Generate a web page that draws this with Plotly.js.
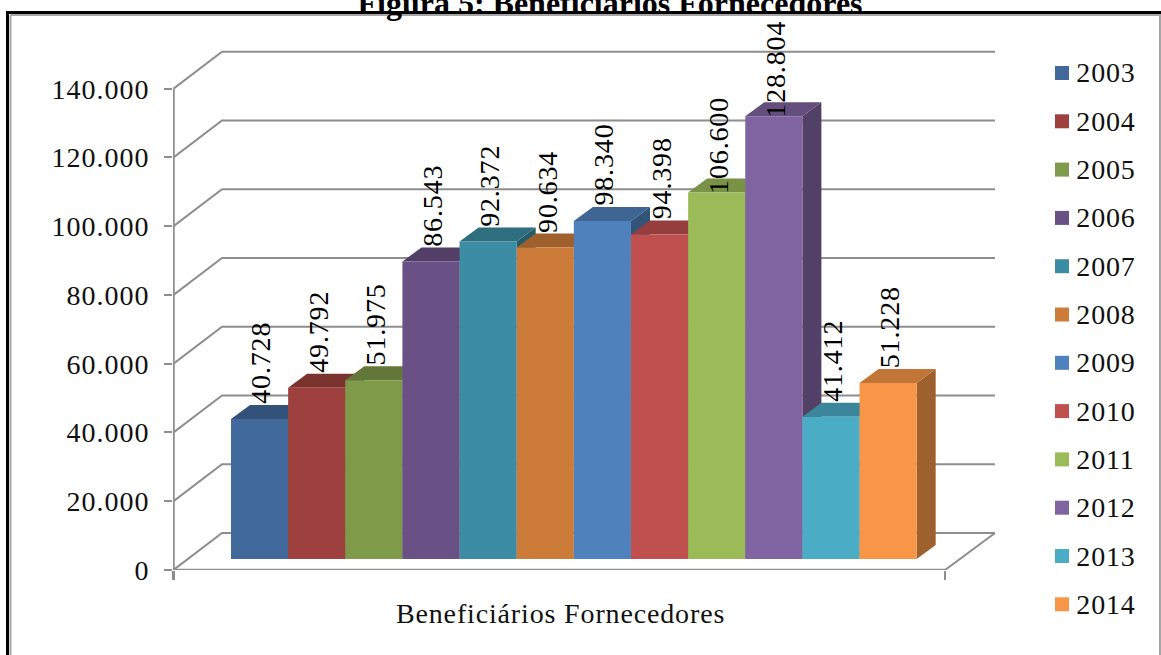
<!DOCTYPE html>
<html>
<head>
<meta charset="utf-8">
<script src="https://cdn.plot.ly/plotly-3.0.1.min.js"></script>
<style>
html,body{margin:0;padding:0;background:#fff;overflow:hidden}
#chart{width:1161px;height:655px}
#chart .ytick text{letter-spacing:1px}
#chart .annotation-text{letter-spacing:.85px}
</style>
</head>
<body>
<div id="chart"></div>
<script>
// Values
const years = ['2003','2004','2005','2006','2007','2008','2009','2010','2011','2012','2013','2014'];
const beneficiaries = [40728,49792,51975,86543,92372,90634,98340,94398,106600,128804,41412,51228];
const frontColors = ['#41699B','#9E413E','#7F9A48','#695185','#3C8DA3','#CC7B38','#4F81BC','#C0504E','#9BBB58','#8064A1','#4BACC6','#F79646'];
const tickValues = [0,20000,40000,60000,80000,100000,120000,140000];
const tickLabels = ['0','20.000','40.000','60.000','80.000','100.000','120.000','140.000'];
const categoryName = 'Beneficiários Fornecedores';
const chartTitle = '<b>Figura 5: Beneficiários Fornecedores</b>';

// Page geometry of the pseudo-3D box, in pixels
const W = 1161, H = 655;
const plotL = 173, plotR = 1000, plotT = 6, plotB = 570;
const pxPer1000 = (570 - 88.7) / 140;
const barLeft = 231, barPx = 57.14;
const FONT = '"Liberation Serif","Times New Roman",serif';
const FS = 28;

const ux = px => (px - barLeft) / barPx - 0.5;   // page x -> category units
const uy = dp => dp / pxPer1000 * 1000;          // pixel height -> value units
const paperX = px => (px - plotL) / (plotR - plotL);
const paperY = py => (plotB - py) / (plotB - plotT);

const floorLift = uy(11);        // bars stand forward of the axis plane
const barDx = 19 / barPx, barDy = uy(14);
const wallFrontX = ux(173.5), wallBackX = ux(222), floorRightFront = ux(945), wallRightX = ux(995);
const wallDy = uy(37);

function shade(hex, f) {
  const n = parseInt(hex.slice(1), 16);
  const c = [n >> 16, (n >> 8) & 255, n & 255].map(v => Math.round(v * f));
  return `rgb(${c[0]},${c[1]},${c[2]})`;
}
const GRID = '#8e8e8e';

const traces = [];

// Gridlines running along the side wall and the back wall
const gx = [], gy = [];
tickValues.forEach(v => {
  gx.push(wallFrontX, wallBackX, wallRightX, null);
  gy.push(v, v + wallDy, v + wallDy, null);
});
gx.push(wallRightX, floorRightFront);
gy.push(wallDy, 0);
traces.push({type:'scatter', mode:'lines', x:gx, y:gy, line:{color:GRID, width:2}, zorder:0, cliponaxis:false, hoverinfo:'skip', showlegend:false});

// Axis lines
traces.push({type:'scatter', mode:'lines',
  x:[wallFrontX, wallFrontX, floorRightFront], y:[140000, 0, 0],
  line:{color:GRID, width:2.5}, zorder:0, cliponaxis:false, hoverinfo:'skip', showlegend:false});

// Bars, painted left to right so each front covers its neighbour's depth faces
years.forEach((yr, i) => {
  const l = i - 0.5, r = i + 0.5;
  const b = floorLift, t = floorLift + beneficiaries[i];
  traces.push({type:'scatter', mode:'none', fill:'toself', fillcolor:shade(frontColors[i], 0.64),
    x:[r, r + barDx, r + barDx, r, r], y:[b, b + barDy, t + barDy, t, b],
    zorder:2 * i + 1, hoverinfo:'skip', showlegend:false});
  traces.push({type:'scatter', mode:'none', fill:'toself', fillcolor:shade(frontColors[i], 0.78),
    x:[l, l + barDx, r + barDx, r, l], y:[t, t + barDy, t + barDy, t, t],
    zorder:2 * i + 1, hoverinfo:'skip', showlegend:false});
  traces.push({type:'bar', name:yr, x:[i], y:[beneficiaries[i]], base:[b], width:[1],
    marker:{color:frontColors[i], line:{width:0}}, zorder:2 * i + 2, hoverinfo:'skip', showlegend:false});
});

const annotations = [];
const shapes = [];

// Rotated value labels
beneficiaries.forEach((v, i) => {
  const lift = v >= 100000 ? 47 : 56;
  annotations.push({xref:'x', yref:'y', x:i + 0.03, y:floorLift + v + uy(lift),
    text:String(v).replace(/(\d)(\d{3})$/, '$1.$2'), textangle:-90,
    showarrow:false, xanchor:'center', yanchor:'middle', font:{family:FONT, size:FS, color:'#000'}});
});

// Category caption under the floor
annotations.push({xref:'paper', yref:'paper', x:paperX(560), y:paperY(613), text:categoryName, showarrow:false,
  xanchor:'center', yanchor:'middle', font:{family:FONT, size:FS, color:'#111'}});

// Year key on the right
years.forEach((yr, i) => {
  const cy = 73 + i * 48.3;
  shapes.push({type:'rect', xref:'paper', yref:'paper', x0:paperX(1055), x1:paperX(1069), y0:paperY(cy - 7), y1:paperY(cy + 7),
    fillcolor:frontColors[i], line:{width:0}});
  annotations.push({xref:'paper', yref:'paper', x:paperX(1076), y:paperY(cy), text:yr, showarrow:false,
    xanchor:'left', yanchor:'middle', font:{family:FONT, size:FS, color:'#111'}});
});

// Page frame around the chart
const frame = (x0, y0, x1, y1, color, width) => shapes.push({type:'line', xref:'paper', yref:'paper',
  x0:paperX(x0), y0:paperY(y0), x1:paperX(x1), y1:paperY(y1), line:{color, width}});
frame(10.5, 15, 1161, 15, '#a6a6a6', 2);
frame(10.5, 15, 10.5, 655, '#a6a6a6', 2);
frame(1160, 15, 1160, 655, '#a6a6a6', 2);
frame(7.5, 12.5, 1161, 12.5, '#000', 3);
frame(7.5, 11, 7.5, 655, '#000', 3);

const layout = {
  width:W, height:H, autosize:false,
  margin:{l:plotL, r:W - plotR, t:plotT, b:H - plotB, pad:0},
  paper_bgcolor:'#fff', plot_bgcolor:'rgba(0,0,0,0)',
  barmode:'overlay', showlegend:false,
  title:{text:chartTitle, x:610 / W, xanchor:'center', xref:'container', yref:'container', y:1 + 3 / H, yanchor:'middle',
    font:{family:FONT, size:32, color:'#000'}},
  xaxis:{range:[ux(plotL), ux(plotR)], showgrid:false, zeroline:false, showline:false,
    tickmode:'array', tickvals:[wallFrontX, floorRightFront], ticktext:['',''],
    ticks:'outside', ticklen:9, tickwidth:2.5, tickcolor:GRID, showticklabels:false},
  yaxis:{range:[0, uy(plotB - plotT)], showgrid:false, zeroline:false, showline:false,
    tickmode:'array', tickvals:tickValues, ticktext:tickLabels,
    ticks:'outside', ticklen:8, tickwidth:2, tickcolor:GRID, ticklabelstandoff:9,
    tickfont:{family:FONT, size:FS, color:'#111'}},
  annotations, shapes
};
Plotly.newPlot('chart', traces, layout, {staticPlot:true, displayModeBar:false});
</script>
</body>
</html>
